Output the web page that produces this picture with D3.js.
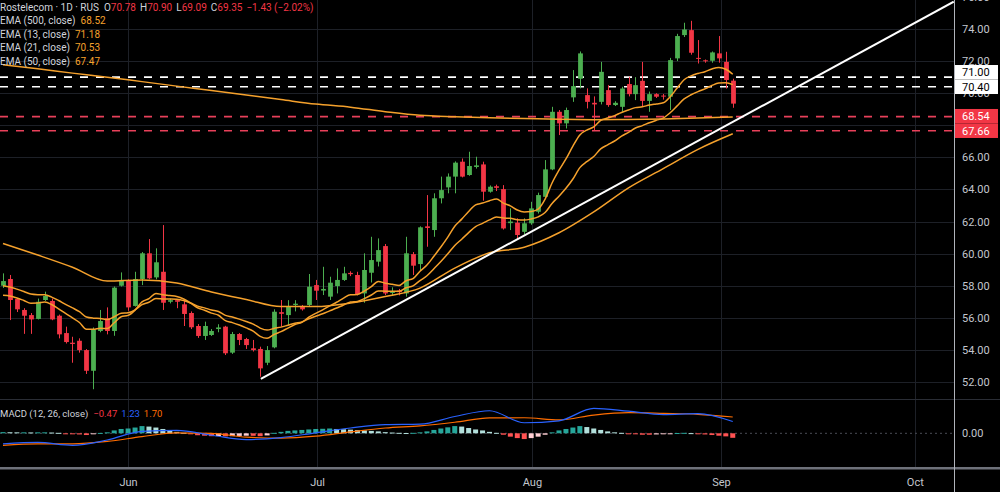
<!DOCTYPE html>
<html>
<head>
<meta charset="utf-8">
<script src="https://cdn.jsdelivr.net/npm/d3@7"></script>
<style>
  body { margin: 0; background: #000; }
  svg text { font-family: Roboto, "Liberation Sans", sans-serif; }
</style>
</head>
<body>
<script>
// ---- datos de velas (Rostelecom 1D) ----
var opens = [58.00,58.42,57.17,56.49,56.17,55.93,57.11,57.05,56.13,55.05,
  54.45,54.57,53.99,52.70,55.18,55.97,55.18,58.00,58.36,56.74,
  58.42,60.02,58.52,58.87,57.00,57.10,56.84,56.30,55.49,54.87,
  54.93,55.30,55.45,53.83,54.99,54.68,54.10,54.06,53.20,54.16,
  56.35,56.17,56.80,56.74,56.80,58.04,57.70,57.32,57.98,58.36,
  58.80,58.67,57.52,58.81,59.50,60.47,57.55,57.70,57.52,59.97,
  59.35,61.70,61.47,63.45,64.13,64.80,65.73,64.90,65.40,65.56,
  63.86,64.20,64.02,61.90,61.93,61.36,61.89,62.61,63.54,65.25,
  68.84,68.12,69.74,70.90,69.88,69.40,69.46,70.19,69.26,69.15,
  70.57,69.94,70.77,69.52,69.94,69.85,69.78,72.17,73.62,73.93,
  72.20,72.05,72.02,72.48,71.95,70.78];
var highs = [58.77,58.67,57.20,56.60,56.30,57.20,57.63,57.20,56.20,55.45,
  54.82,54.72,54.05,55.40,56.49,56.65,57.95,58.83,58.40,58.87,
  60.10,60.91,60.33,61.78,57.20,57.10,57.11,56.40,55.61,55.76,
  55.30,55.60,55.50,55.12,55.05,54.75,54.62,54.20,54.24,56.53,
  57.11,57.10,57.10,56.80,58.73,58.36,59.18,58.56,59.08,59.18,
  58.90,58.87,60.02,61.05,60.95,60.60,57.90,57.80,61.05,60.10,
  61.70,63.65,63.76,64.80,65.00,65.75,65.93,66.35,66.04,65.73,
  64.25,64.30,64.27,62.82,62.20,62.20,63.23,63.80,65.83,69.15,
  68.95,69.10,71.44,72.60,70.30,69.80,71.95,70.50,69.50,70.40,
  71.02,71.00,71.95,70.10,70.00,69.95,72.20,73.70,74.39,74.51,
  73.31,72.10,72.60,73.56,72.58,70.90];
var lows = [57.86,55.86,56.36,55.00,55.00,55.90,57.05,55.85,54.72,54.40,
  53.20,53.83,52.50,51.55,55.10,54.97,54.88,57.95,56.44,56.70,
  58.04,58.40,58.40,56.49,56.90,56.60,55.49,55.30,54.75,54.62,
  54.87,55.10,53.68,53.75,54.30,54.06,53.90,52.33,53.05,54.10,
  55.45,55.55,56.40,56.45,56.70,57.11,57.42,57.11,57.52,58.30,
  58.60,57.40,56.94,58.20,59.20,57.42,57.40,57.40,57.32,58.67,
  58.98,60.43,61.05,63.13,63.76,63.76,64.75,64.85,65.30,63.30,
  63.80,63.90,61.50,61.47,60.89,61.20,61.80,62.50,63.40,65.20,
  67.39,67.80,69.46,70.30,69.05,67.70,69.30,69.15,69.20,68.84,
  69.80,69.57,69.15,68.84,69.70,69.60,68.95,72.00,73.50,72.40,
  71.85,71.90,71.90,71.90,70.29,69.09];
var closes = [58.29,57.11,56.53,56.13,55.90,57.00,57.36,55.90,54.97,54.49,
  54.37,53.99,52.70,55.28,55.80,55.18,57.88,58.36,56.65,58.42,
  60.02,58.46,59.46,56.94,57.10,57.00,56.24,55.41,54.87,55.49,
  55.18,55.40,53.79,54.99,54.62,54.30,53.99,52.85,53.99,56.38,
  56.25,56.69,56.88,56.53,57.94,57.69,57.80,58.19,58.36,58.77,
  58.72,57.48,58.98,59.60,60.22,57.52,57.65,57.60,60.02,59.25,
  61.64,61.60,63.45,63.96,64.80,65.67,64.80,65.46,65.50,63.86,
  64.17,64.10,61.57,62.00,61.16,61.89,62.82,63.65,65.25,68.84,
  68.12,68.95,70.44,72.48,69.46,69.30,71.33,69.26,69.40,70.29,
  69.94,70.50,69.52,69.94,69.78,69.80,72.06,73.56,73.97,72.52,
  72.15,72.00,72.54,72.17,70.82,69.35];

// medias (una por vela)
var ema13 = [57.40,57.36,57.24,57.08,56.91,56.92,56.98,56.83,56.56,56.27,
  56.00,55.71,55.28,55.28,55.35,55.33,55.69,56.07,56.15,56.48,
  56.99,57.20,57.52,57.44,57.39,57.33,57.17,56.92,56.63,56.47,
  56.29,56.16,55.82,55.70,55.55,55.37,55.17,54.84,54.72,54.96,
  55.14,55.36,55.58,55.72,56.04,56.28,56.50,56.74,56.97,57.23,
  57.44,57.45,57.67,57.95,58.27,58.16,58.09,58.02,58.31,58.44,
  58.90,59.29,59.84,60.41,61.03,61.71,62.15,62.63,63.04,63.15,
  63.30,63.41,63.15,62.98,62.72,62.60,62.63,62.78,63.40,64.40,
  65.20,65.90,66.70,67.40,67.70,67.90,68.30,68.45,68.60,68.80,
  68.95,69.10,69.15,69.26,69.33,69.40,69.78,70.32,70.84,71.08,
  71.23,71.34,71.51,71.60,71.49,71.18];
var ema21 = [58.00,57.92,57.79,57.64,57.48,57.44,57.43,57.29,57.08,56.84,
  56.62,56.38,56.05,55.98,55.96,55.89,56.07,56.28,56.31,56.50,
  56.82,56.97,57.20,57.18,57.17,57.15,57.07,56.92,56.73,56.62,
  56.49,56.39,56.15,56.05,55.92,55.77,55.61,55.36,55.24,55.34,
  55.42,55.54,55.66,55.74,55.94,56.10,56.25,56.43,56.61,56.80,
  56.98,57.02,57.20,57.42,57.67,57.66,57.66,57.65,57.87,57.99,
  58.32,58.62,59.06,59.51,59.99,60.51,60.90,61.31,61.69,61.89,
  62.10,62.28,62.22,62.20,62.11,62.09,62.16,62.29,62.56,63.13,
  63.58,64.07,64.65,65.36,65.73,66.05,66.53,66.78,67.02,67.32,
  67.56,67.83,67.98,68.16,68.31,68.45,68.78,69.21,69.64,69.90,
  70.10,70.27,70.48,70.63,70.65,70.53];

// medias lentas, leídas cada 5 velas
var slowIdx = [0,5,10,15,20,25,30,35,40,45,50,55,60,65,70,75,80,85,90,95,100,105];
var ema50 = [60.63,59.91,59.15,58.29,58.36,58.17,57.61,57.14,56.70,56.70,56.92,57.33,
  57.85,59.10,60.05,60.40,61.30,62.60,64.10,65.30,66.50,67.47];
var ema500 = [71.77,71.52,71.25,71.00,70.72,70.44,70.16,69.88,69.60,69.32,69.13,68.85,
  68.62,68.53,68.47,68.42,68.37,68.35,68.36,68.39,68.45,68.52];

// MACD (12, 26) leído cada 5 velas, histograma por vela
var macdLine = [-1.10,-0.95,-1.25,-0.70,0.20,0.30,-0.20,-0.65,-0.45,0.05,0.55,0.90,
  0.95,1.75,2.35,1.10,1.30,2.60,2.30,1.95,2.05,1.23];
var signalLine = [-1.25,-1.10,-1.10,-0.85,-0.35,0.05,0.00,-0.40,-0.50,-0.30,0.15,0.55,
  0.78,1.15,1.60,1.62,1.40,1.90,2.15,2.08,1.98,1.70];
var macdHist = [0.12,0.11,0.10,0.10,0.09,0.10,0.10,0.08,0.05,-0.03,
  -0.08,-0.12,-0.18,-0.10,0.04,0.10,0.30,0.45,0.50,0.60,
  0.75,0.70,0.60,0.45,0.30,0.15,0.05,-0.10,-0.20,-0.25,
  -0.30,-0.28,-0.32,-0.30,-0.27,-0.25,-0.26,-0.30,-0.22,0.05,
  0.15,0.25,0.30,0.35,0.40,0.45,0.47,0.50,0.45,0.42,
  0.38,0.33,0.30,0.25,0.20,0.12,0.08,0.05,0.03,0.05,
  0.10,0.20,0.35,0.50,0.62,0.75,0.70,0.55,0.40,0.30,
  0.15,0.05,-0.15,-0.35,-0.50,-0.60,-0.50,-0.35,-0.15,0.10,
  0.30,0.45,0.60,0.75,0.65,0.50,0.35,0.20,0.10,0.05,
  -0.05,-0.10,-0.15,-0.15,-0.12,-0.10,-0.05,0.03,0.05,0.02,
  -0.08,-0.12,-0.18,-0.25,-0.32,-0.47];

// niveles horizontales y línea de tendencia
var whiteLevels = [71.00, 70.40];
var redLevels = [68.54, 67.66];
var trendLine = [[37.1, 52.2], [136.8, 75.7]];

// ejes (el 68.00 queda tapado por las etiquetas rojas)
var priceTicks = [52,54,56,58,60,62,64,66,68,70,72,74,76];
var hiddenTicks = [68];
var monthLabels = ["Jun","Jul","Aug","Sep","Oct"];
var monthPos = [18, 45.2, 76.1, 103.3, 131.2];

// leyenda
var emaLegend = [
  {label: "EMA (500, close)", value: "68.52"},
  {label: "EMA (13, close)", value: "71.18"},
  {label: "EMA (21, close)", value: "70.53"},
  {label: "EMA (50, close)", value: "67.47"}
];
var ohlcLegend = [["O","70.78"],["H","70.90"],["L","69.09"],["C","69.35"]];

// ---- dibujo ----
var width = 1000;
var height = 492;
var ejeX = 954;          // línea de la escala de precios
var precioAbajo = 399;
var macdArriba = 400;
var macdAbajo = 467;

var verde = "#4caf50";
var rojo = "#f23645";
var naranja = "#f5a12c";
var gris = "#c3c6ce";
var rejilla = "#1d2027";

var escalaX = d3.scaleLinear().domain([0, 105]).range([3, 732.75]);
var escalaY = d3.scaleLinear().domain([52, 74]).range([382, 29]);
var escalaM = d3.scaleLinear().domain([-1, 1]).range([442.9, 423.7]);

var svg = d3.select("body").append("svg")
    .attr("width", width)
    .attr("height", height)
    .style("display", "block")
    .style("background", "#000");

var defs = svg.append("defs");
defs.append("clipPath").attr("id", "clipPrecio")
    .append("rect").attr("x", 0).attr("y", 0).attr("width", ejeX).attr("height", precioAbajo);
defs.append("clipPath").attr("id", "clipMacd")
    .append("rect").attr("x", 0).attr("y", macdArriba).attr("width", ejeX).attr("height", macdAbajo - macdArriba);

// rejilla
svg.append("g").selectAll("line")
    .data(priceTicks)
    .join("line")
    .attr("x1", 0).attr("x2", ejeX)
    .attr("y1", d => Math.round(escalaY(d)) + 0.5)
    .attr("y2", d => Math.round(escalaY(d)) + 0.5)
    .attr("stroke", rejilla);

svg.append("g").selectAll("line")
    .data(monthPos)
    .join("line")
    .attr("x1", d => Math.round(escalaX(d)) + 0.5)
    .attr("x2", d => Math.round(escalaX(d)) + 0.5)
    .attr("y1", 0).attr("y2", macdAbajo)
    .attr("stroke", rejilla);

// panel de precios
var panel = svg.append("g").attr("clip-path", "url(#clipPrecio)");

// líneas de nivel discontinuas
panel.selectAll(".nivelBlanco")
    .data(whiteLevels)
    .join("line")
    .attr("class", "nivelBlanco")
    .attr("x1", 0).attr("x2", ejeX)
    .attr("y1", d => escalaY(d)).attr("y2", d => escalaY(d))
    .attr("stroke", "#ffffff")
    .attr("stroke-width", 1.6)
    .attr("stroke-dasharray", "8,8");

panel.selectAll(".nivelRojo")
    .data(redLevels)
    .join("line")
    .attr("class", "nivelRojo")
    .attr("x1", 0).attr("x2", ejeX)
    .attr("y1", d => escalaY(d)).attr("y2", d => escalaY(d))
    .attr("stroke", "#e8405a")
    .attr("stroke-width", 1.6)
    .attr("stroke-dasharray", "8,8");

// velas
var indices = d3.range(closes.length);
var colorVela = i => closes[i] >= opens[i] ? verde : rojo;

panel.append("g").selectAll("line")
    .data(indices)
    .join("line")
    .attr("x1", i => Math.round(escalaX(i)) + 0.5)
    .attr("x2", i => Math.round(escalaX(i)) + 0.5)
    .attr("y1", i => escalaY(highs[i]))
    .attr("y2", i => escalaY(lows[i]))
    .attr("stroke", colorVela)
    .attr("stroke-width", 1);

panel.append("g").selectAll("rect")
    .data(indices)
    .join("rect")
    .attr("x", i => Math.round(escalaX(i)) + 0.5 - 2.4)
    .attr("width", 4.8)
    .attr("y", i => escalaY(Math.max(opens[i], closes[i])))
    .attr("height", i => Math.max(1, Math.abs(escalaY(opens[i]) - escalaY(closes[i]))))
    .attr("fill", colorVela);

// medias móviles
var lineaPorVela = d3.line()
    .x((d, i) => escalaX(i))
    .y(d => escalaY(d))
    .curve(d3.curveMonotoneX);

var lineaMuestreada = d3.line()
    .x((d, i) => escalaX(slowIdx[i]))
    .y(d => escalaY(d))
    .curve(d3.curveMonotoneX);

[ema500, ema50].forEach(function (serie) {
    panel.append("path")
        .attr("d", lineaMuestreada(serie))
        .attr("fill", "none")
        .attr("stroke", naranja)
        .attr("stroke-width", 1.5);
});
[ema21, ema13].forEach(function (serie) {
    panel.append("path")
        .attr("d", lineaPorVela(serie))
        .attr("fill", "none")
        .attr("stroke", naranja)
        .attr("stroke-width", 1.5);
});

// línea de tendencia
panel.append("line")
    .attr("x1", escalaX(trendLine[0][0])).attr("y1", escalaY(trendLine[0][1]))
    .attr("x2", escalaX(trendLine[1][0])).attr("y2", escalaY(trendLine[1][1]))
    .attr("stroke", "#ffffff")
    .attr("stroke-width", 2);

// eje de precios
var ejeY = d3.axisRight(escalaY)
    .tickValues(priceTicks.filter(d => hiddenTicks.indexOf(d) < 0))
    .tickFormat(d3.format(".2f"))
    .tickSize(0)
    .tickPadding(8);

svg.append("g")
    .attr("transform", "translate(" + ejeX + ",0)")
    .call(ejeY)
    .call(g => g.select(".domain").remove())
    .selectAll("text")
    .attr("fill", gris)
    .style("font-size", "11px");

// etiquetas de nivel en la escala (separadas si se solapan)
var altoEtiqueta = 14.5;
var etiquetas = whiteLevels.map(v => ({v: v, fondo: "#ffffff", texto: "#000000"}))
    .concat(redLevels.map(v => ({v: v, fondo: rojo, texto: "#ffffff"})))
    .sort((a, b) => a.v - b.v);
var anterior = Infinity;
etiquetas.forEach(function (e) {
    e.cy = Math.min(escalaY(e.v), anterior - altoEtiqueta);
    anterior = e.cy;
});

var gEtiquetas = svg.append("g");
gEtiquetas.selectAll("rect")
    .data(etiquetas)
    .join("rect")
    .attr("x", ejeX + 1)
    .attr("y", d => d.cy - altoEtiqueta / 2)
    .attr("width", 43)
    .attr("height", altoEtiqueta)
    .attr("fill", d => d.fondo);
gEtiquetas.selectAll("text")
    .data(etiquetas)
    .join("text")
    .attr("x", ejeX + 8)
    .attr("y", d => d.cy)
    .attr("dy", "0.35em")
    .attr("fill", d => d.texto)
    .style("font-size", "11px")
    .text(d => d.v.toFixed(2));

// separadores
svg.append("line")
    .attr("x1", 0).attr("x2", width)
    .attr("y1", macdArriba - 0.5).attr("y2", macdArriba - 0.5)
    .attr("stroke", "#2a2d35");
svg.append("rect")
    .attr("x", 0).attr("y", macdAbajo)
    .attr("width", width).attr("height", 2.5)
    .attr("fill", "#6e717a");
svg.append("line")
    .attr("x1", ejeX + 0.5).attr("x2", ejeX + 0.5)
    .attr("y1", 0).attr("y2", height)
    .attr("stroke", "#b0b3ba");

// panel MACD
var panelM = svg.append("g").attr("clip-path", "url(#clipMacd)");

panelM.append("line")
    .attr("x1", 0).attr("x2", ejeX)
    .attr("y1", escalaM(0)).attr("y2", escalaM(0))
    .attr("stroke", "#4a4d55")
    .attr("stroke-dasharray", "2,3");

function colorHist(i) {
    var h = macdHist[i];
    var previo = i > 0 ? macdHist[i - 1] : h;
    if (h >= 0) return h >= previo ? "#26a69a" : "#b2dfdb";
    return h <= previo ? "#ff5252" : "#ffcdd2";
}

panelM.append("g").selectAll("rect")
    .data(indices)
    .join("rect")
    .attr("x", i => escalaX(i) - 2.5)
    .attr("width", 5)
    .attr("y", i => Math.min(escalaM(0), escalaM(macdHist[i])))
    .attr("height", i => Math.max(1, Math.abs(escalaM(macdHist[i]) - escalaM(0))))
    .attr("fill", colorHist);

var lineaMacd = d3.line()
    .x((d, i) => escalaX(slowIdx[i]))
    .y(d => escalaM(d))
    .curve(d3.curveMonotoneX);

panelM.append("path")
    .attr("d", lineaMacd(signalLine))
    .attr("fill", "none")
    .attr("stroke", "#ff6d00")
    .attr("stroke-width", 1.2);
panelM.append("path")
    .attr("d", lineaMacd(macdLine))
    .attr("fill", "none")
    .attr("stroke", "#2962ff")
    .attr("stroke-width", 1.2);

svg.append("text")
    .attr("x", ejeX + 8).attr("y", escalaM(0))
    .attr("dy", "0.35em")
    .attr("fill", gris)
    .style("font-size", "11px")
    .text("0.00");

// eje de tiempo
var ejeT = d3.axisBottom(escalaX)
    .tickValues(monthPos)
    .tickFormat((d, i) => monthLabels[i])
    .tickSize(0)
    .tickPadding(8);

svg.append("g")
    .attr("transform", "translate(0," + (macdAbajo + 3) + ")")
    .call(ejeT)
    .call(g => g.select(".domain").remove())
    .selectAll("text")
    .attr("fill", gris)
    .style("font-size", "11px");

// leyenda superior
var cabecera = svg.append("text")
    .attr("x", 0).attr("y", 10.5)
    .style("font-size", "10px")
    .attr("fill", "#d1d4dc");
cabecera.append("tspan").text("Rostelecom · 1D · RUS");
ohlcLegend.forEach(function (par, k) {
    cabecera.append("tspan").attr("dx", k === 0 ? 5 : 4).attr("fill", "#d1d4dc").text(par[0]);
    cabecera.append("tspan").attr("fill", rojo).text(par[1]);
});
cabecera.append("tspan").attr("dx", 4).attr("fill", rojo).text("−1.43 (−2.02%)");

emaLegend.forEach(function (e, k) {
    var t = svg.append("text")
        .attr("x", 0).attr("y", 24 + k * 13.6)
        .style("font-size", "10px")
        .attr("fill", "#d1d4dc");
    t.append("tspan").text(e.label);
    t.append("tspan").attr("dx", 5).attr("fill", naranja).text(e.value);
});

// leyenda MACD
var leyM = svg.append("text")
    .attr("x", 0).attr("y", 416.5)
    .style("font-size", "9.5px")
    .attr("fill", "#d1d4dc");
leyM.append("tspan").text("MACD (12, 26, close)");
leyM.append("tspan").attr("dx", 5).attr("fill", rojo).text("−0.47");
leyM.append("tspan").attr("dx", 4).attr("fill", "#2962ff").text("1.23");
leyM.append("tspan").attr("dx", 4).attr("fill", "#ff6d00").text("1.70");
</script>
</body>
</html>
